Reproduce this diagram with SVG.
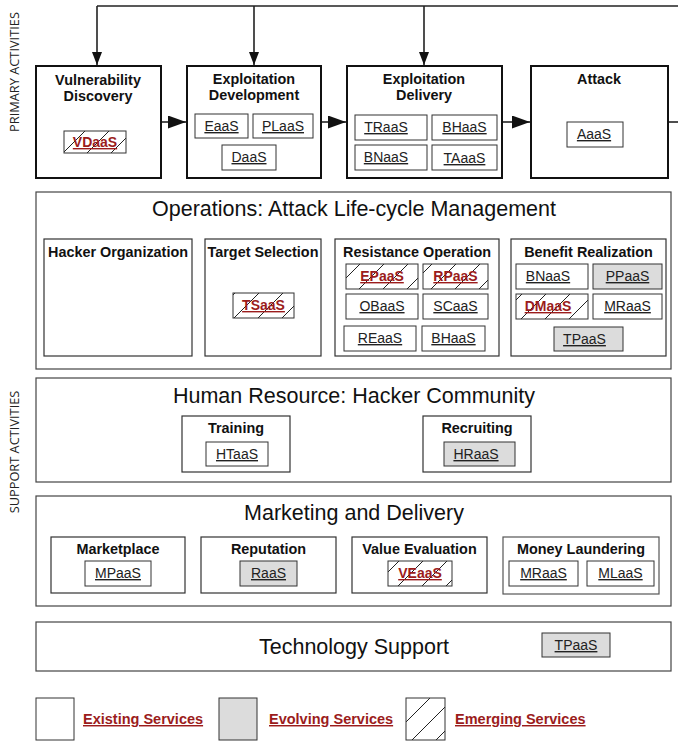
<svg xmlns="http://www.w3.org/2000/svg" width="678" height="742" viewBox="0 0 678 742">
<defs>
<style>
.pbox{fill:#fff;stroke:#111;stroke-width:2}
.sec{fill:#fff;stroke:#444;stroke-width:1.2}
.sub{fill:#fff;stroke:#333;stroke-width:1.2}
.svc{fill:#fff;stroke:#333;stroke-width:1}
.evo{fill:#dcdcdc}
.emg{fill:url(#hatch)}
text{font-family:"Liberation Sans",Arial,sans-serif;text-anchor:middle;fill:#111}
.t{font-size:14.4px;font-weight:bold}
.s{font-size:14px;text-decoration:underline;fill:#222}
.e{font-size:14px;font-weight:bold;text-decoration:underline;fill:#9b1c1c}
.h{font-size:21.5px;fill:#111}
.side{font-family:"Open Sans","Noto Sans",sans-serif;font-size:12.8px;fill:#222}
.leg{font-size:14.5px;font-weight:bold;text-decoration:underline;fill:#9b1c1c;text-anchor:start}
</style>
<pattern id="hatch" patternUnits="userSpaceOnUse" width="24" height="24">
<rect width="24" height="24" fill="#fff"/>
<path d="M0,24 L24,0 M-6,6 L6,-6 M18,30 L30,18" stroke="#222" stroke-width="1"/>
</pattern>
<marker id="ahv" viewBox="0 0 10 10" markerUnits="userSpaceOnUse" markerWidth="13" markerHeight="10" refX="10" refY="5" orient="auto" preserveAspectRatio="none">
<path d="M0,0 L10,5 L0,10z" fill="#111"/>
</marker>
<marker id="ahh" viewBox="0 0 10 10" markerUnits="userSpaceOnUse" markerWidth="18" markerHeight="13" refX="10" refY="5" orient="auto" preserveAspectRatio="none">
<path d="M0,0 L10,5 L0,10z" fill="#111"/>
</marker>
</defs>
<rect width="678" height="742" fill="#fff"/>

<text class="side" transform="translate(19,72) rotate(-90)">PRIMARY ACTIVITIES</text>
<text class="side" transform="translate(19,452) rotate(-90)">SUPPORT ACTIVITIES</text>

<g id="connectors" fill="none" stroke="#222" stroke-width="1.6">
<path d="M97,6 H678"/>
<path d="M97,6 V65" marker-end="url(#ahv)"/>
<path d="M254,6 V65" marker-end="url(#ahv)"/>
<path d="M424,6 V65" marker-end="url(#ahv)"/>
<path d="M162,122 H186" marker-end="url(#ahh)"/>
<path d="M322,122 H346" marker-end="url(#ahh)"/>
<path d="M503,122 H530" marker-end="url(#ahh)"/>
<path d="M669,122 H678"/>
</g>

<g id="vuln-discovery">
<rect class="pbox" x="36" y="66" width="125" height="112"/>
<text class="t" x="98" y="85">Vulnerability</text>
<text class="t" x="98" y="101">Discovery</text>
<rect class="svc emg" x="64" y="131" width="62" height="22"/>
<text class="e" x="95" y="147">VDaaS</text>
</g>

<g id="exploit-development">
<rect class="pbox" x="187" y="66" width="134" height="112"/>
<text class="t" x="254" y="84">Exploitation</text>
<text class="t" x="254" y="100">Development</text>
<rect class="svc" x="195" y="114" width="53" height="24"/>
<text class="s" x="221.5" y="131">EaaS</text>
<rect class="svc" x="253" y="114" width="60" height="24"/>
<text class="s" x="283" y="131">PLaaS</text>
<rect class="svc" x="222" y="145" width="54" height="25"/>
<text class="s" x="249" y="162">DaaS</text>
</g>

<g id="exploit-delivery">
<rect class="pbox" x="347" y="66" width="155" height="112"/>
<text class="t" x="424" y="84">Exploitation</text>
<text class="t" x="424" y="100">Delivery</text>
<rect class="svc" x="355" y="115" width="72" height="25"/>
<text class="s" x="386" y="132">TRaaS</text>
<rect class="svc" x="432" y="115" width="65" height="25"/>
<text class="s" x="464.5" y="132">BHaaS</text>
<rect class="svc" x="355" y="145" width="72" height="25"/>
<text class="s" x="386" y="162">BNaaS</text>
<rect class="svc" x="432" y="145" width="65" height="25"/>
<text class="s" x="464.5" y="163">TAaaS</text>
</g>

<g id="attack">
<rect class="pbox" x="531" y="66" width="137" height="112"/>
<text class="t" x="599" y="84">Attack</text>
<rect class="svc" x="567" y="122" width="56" height="25"/>
<text class="s" x="594" y="139">AaaS</text>
</g>

<g id="operations">
<rect class="sec" x="36" y="192" width="635" height="177"/>
<text class="h" x="354" y="216">Operations: Attack Life-cycle Management</text>
</g>
<g id="hacker-org">
<rect class="sub" x="44" y="239" width="148" height="117"/>
<text class="t" x="118" y="257">Hacker Organization</text>
</g>
<g id="target-selection">
<rect class="sub" x="205" y="239" width="116" height="117"/>
<text class="t" x="263" y="257">Target Selection</text>
<rect class="svc emg" x="233" y="293" width="61" height="25"/>
<text class="e" x="263.5" y="310">TSaaS</text>
</g>
<g id="resistance-operation">
<rect class="sub" x="335" y="239" width="164" height="117"/>
<text class="t" x="417" y="257">Resistance Operation</text>
<rect class="svc emg" x="346" y="264" width="72" height="25"/>
<text class="e" x="382" y="281">EPaaS</text>
<rect class="svc emg" x="423" y="264" width="65" height="25"/>
<text class="e" x="455.5" y="281">RPaaS</text>
<rect class="svc" x="346" y="294" width="72" height="25"/>
<text class="s" x="382" y="311">OBaaS</text>
<rect class="svc" x="423" y="294" width="65" height="25"/>
<text class="s" x="455.5" y="311">SCaaS</text>
<rect class="svc" x="344" y="326" width="72" height="25"/>
<text class="s" x="380" y="343">REaaS</text>
<rect class="svc" x="422" y="326" width="63" height="25"/>
<text class="s" x="453.5" y="343">BHaaS</text>
</g>
<g id="benefit-realization">
<rect class="sub" x="511" y="239" width="155" height="117"/>
<text class="t" x="588.5" y="257">Benefit Realization</text>
<rect class="svc" x="516" y="264" width="72" height="25"/>
<text class="s" x="548" y="281">BNaaS</text>
<rect class="svc evo" x="593" y="264" width="69" height="25"/>
<text class="s" x="627.5" y="281">PPaaS</text>
<rect class="svc emg" x="516" y="294" width="72" height="25"/>
<text class="e" x="548" y="311">DMaaS</text>
<rect class="svc" x="593" y="294" width="69" height="25"/>
<text class="s" x="627.5" y="311">MRaaS</text>
<rect class="svc evo" x="554" y="327" width="69" height="24"/>
<text class="s" x="584.5" y="344">TPaaS</text>
</g>

<g id="human-resource">
<rect class="sec" x="36" y="378" width="635" height="104"/>
<text class="h" x="354" y="403">Human Resource: Hacker Community</text>
</g>
<g id="training">
<rect class="sub" x="182" y="416" width="108" height="56"/>
<text class="t" x="236" y="433">Training</text>
<rect class="svc" x="206" y="442" width="62" height="24"/>
<text class="s" x="237" y="459">HTaaS</text>
</g>
<g id="recruiting">
<rect class="sub" x="423" y="416" width="108" height="56"/>
<text class="t" x="477" y="433">Recruiting</text>
<rect class="svc evo" x="444" y="442" width="71" height="24"/>
<text class="s" x="476" y="459">HRaaS</text>
</g>

<g id="marketing">
<rect class="sec" x="36" y="496" width="635" height="110"/>
<text class="h" x="354" y="520">Marketing and Delivery</text>
</g>
<g id="marketplace">
<rect class="sub" x="51" y="537" width="134" height="56"/>
<text class="t" x="118" y="554">Marketplace</text>
<rect class="svc" x="85" y="561" width="66" height="25"/>
<text class="s" x="118" y="578">MPaaS</text>
</g>
<g id="reputation">
<rect class="sub" x="201" y="537" width="135" height="56"/>
<text class="t" x="268.5" y="554">Reputation</text>
<rect class="svc evo" x="240" y="561" width="57" height="25"/>
<text class="s" x="268.5" y="578">RaaS</text>
</g>
<g id="value-evaluation">
<rect class="sub" x="352" y="537" width="135" height="56"/>
<text class="t" x="419.5" y="554">Value Evaluation</text>
<rect class="svc emg" x="388" y="561" width="64" height="25"/>
<text class="e" x="420" y="578">VEaaS</text>
</g>
<g id="money-laundering">
<rect class="sub" x="503" y="537" width="156" height="57" style="stroke:#555"/>
<text class="t" x="581" y="554">Money Laundering</text>
<rect class="svc" x="509" y="561" width="69" height="25"/>
<text class="s" x="543.5" y="578">MRaaS</text>
<rect class="svc" x="587" y="561" width="67" height="25"/>
<text class="s" x="620.5" y="578">MLaaS</text>
</g>

<g id="technology-support">
<rect class="sec" x="36" y="622" width="635" height="49"/>
<text class="h" x="354" y="654">Technology Support</text>
<rect class="svc evo" x="542" y="633" width="68" height="24"/>
<text class="s" x="576" y="650">TPaaS</text>
</g>

<g id="legend">
<rect class="svc" x="36" y="698" width="38" height="42"/>
<text class="leg" x="83" y="724">Existing Services</text>
<rect class="svc evo" x="219" y="698" width="38" height="42"/>
<text class="leg" x="269" y="724">Evolving Services</text>
<rect class="svc emg" x="406" y="698" width="39" height="42"/>
<text class="leg" x="455" y="724">Emerging Services</text>
</g>
</svg>
